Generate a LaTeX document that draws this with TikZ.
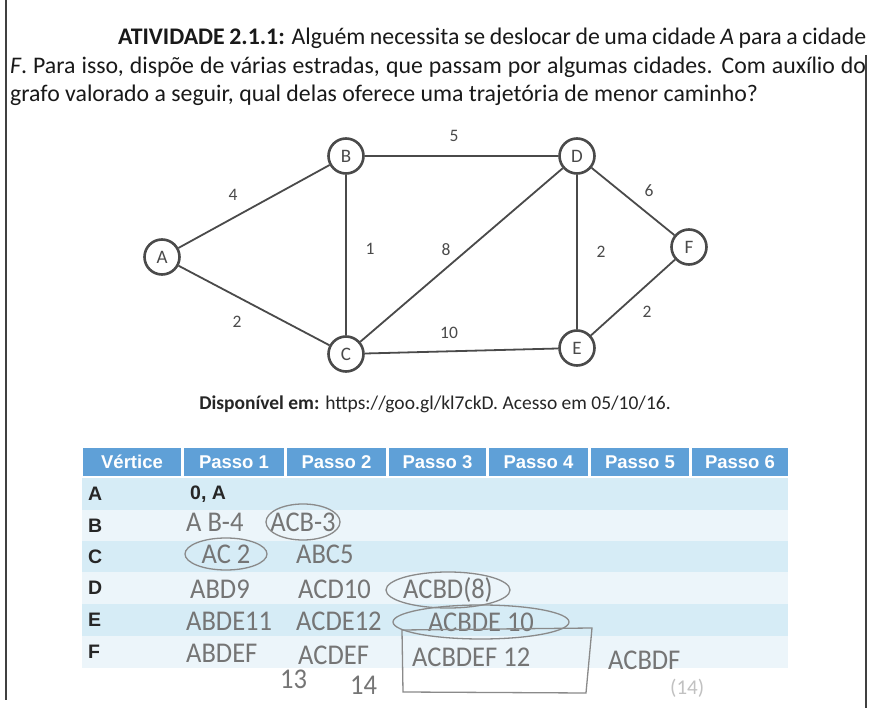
\documentclass[tikz,border=0pt]{standalone}
\usepackage{graphicx}
\usepackage{fontspec}
\setmainfont{Carlito}
\newfontfamily\tablefont{Liberation Sans}
\usetikzlibrary{shapes.geometric, positioning}
\definecolor{headblue}{HTML}{5FA0D7}
\definecolor{rowdark}{HTML}{D6ECF6}
\definecolor{rowlight}{HTML}{ECF5FA}
\definecolor{inkgray}{HTML}{4A4A4A}
\definecolor{pencil}{HTML}{757575}
\newcommand{\penciled}[1]{\scalebox{1.02}[1.1]{#1}}
\tikzset{
  titletext/.style={
    anchor=base west, inner sep=0pt,
    font=\fontsize{23.8}{29}\selectfont, text=black!90
  },
  vertex/.style={
    circle, minimum size=35pt, inner sep=0pt,
    draw=inkgray, line width=2.6pt, fill=white,
    font=\fontsize{19}{19}\selectfont, text=inkgray
  },
  edgeline/.style={line width=1.8pt, draw=inkgray},
  weight/.style={font=\fontsize{17.5}{17.5}\selectfont, text=inkgray, inner sep=1pt},
  headtext/.style={font=\tablefont\bfseries\fontsize{18.5}{18.5}\selectfont, text=white},
  rowlabel/.style={
    anchor=west, inner sep=0pt,
    font=\tablefont\bfseries\fontsize{19.5}{19.5}\selectfont, text=black!85
  },
  handtext/.style={
    anchor=west, inner sep=0pt,
    font=\fontsize{26}{26}\selectfont, text=pencil
  },
  handring/.style={draw=pencil!85, line width=1.3pt},
}

\begin{document}
\begin{tikzpicture}[x=1pt,y=-1pt]
  \useasboundingbox (0,0) rectangle (871,708);
  \fill[white] (0,0) rectangle (871,708);
  % page edges of the scan
  \draw[line width=1.4pt, black!75] (6,0) -- (6,700);
  \draw[line width=1.4pt, black!75] (866,55) -- (866,708);

  % statement
  \node[titletext] (line1) at (118,45)
    {\makebox[748pt][s]{\textbf{ATIVIDADE 2.1.1:} Alguém necessita se deslocar de uma cidade \textit{A} para a cidade}};
  \node[titletext] (line2) at (10,74)
    {\makebox[856pt][s]{\textit{F}. Para isso, dispõe de várias estradas, que passam por algumas cidades. Com auxílio do}};
  \node[titletext] (line3) at (10,102)
    {grafo valorado a seguir, qual delas oferece uma trajetória de menor caminho?};

  % graph
  \node[vertex] (A) at (162,257) {A};
  \node[vertex] (B) at (346,156) {B};
  \node[vertex] (C) at (346,354) {C};
  \node[vertex] (D) at (577,156) {D};
  \node[vertex] (E) at (577,348) {E};
  \node[vertex] (F) at (689,247) {F};
  \draw[edgeline] (A) -- (B);
  \draw[edgeline] (A) -- (C);
  \draw[edgeline] (B) -- (C);
  \draw[edgeline] (B) -- (D);
  \draw[edgeline] (C) -- (D);
  \draw[edgeline] (C) -- (E);
  \draw[edgeline] (D) -- (E);
  \draw[edgeline] (D) -- (F);
  \draw[edgeline] (E) -- (F);
  \node[weight] (wAB) at (233,195) {4};
  \node[weight] (wAC) at (237,322) {2};
  \node[weight] (wBC) at (370,249) {1};
  \node[weight] (wBD) at (454,136) {5};
  \node[weight] (wCD) at (446,250) {8};
  \node[weight] (wCE) at (449,333) {10};
  \node[weight] (wDE) at (601,252) {2};
  \node[weight] (wDF) at (649,191) {6};
  \node[weight] (wEF) at (647,312) {2};

  \node[font=\fontsize{19.5}{19.5}\selectfont, text=black!85] (source) at (435,404)
    {\textbf{Disponível em:} https://goo.gl/kl7ckD. Acesso em 05/10/16.};

  % table
  \foreach \id/\xa/\xb/\txt in {v/83/181/Vértice, p1/184/284/Passo 1, p2/287/386/Passo 2,
      p3/389/486/Passo 3, p4/489/588/Passo 4, p5/591/689/Passo 5, p6/692/788/Passo 6}{
    \fill[headblue] (\xa,448) rectangle (\xb,476);
    \node[headtext] (head\id) at ({(\xa+\xb)/2},462) {\txt};
  }
  \foreach \r/\ya/\yb/\col in {A/478/510/rowdark, B/510/541/rowlight, C/541/572/rowdark,
      D/572/604/rowlight, E/604/636/rowdark, F/636/668/rowlight}{
    \fill[\col] (82,\ya) rectangle (788,\yb);
    \node[rowlabel] (row\r) at (88,{(\ya+\yb)/2}) {\r};
  }
  \node[rowlabel] (startA) at (190,494) {0, A};

  % pencil notes
  \node[handtext] (b1) at (186,522) {\penciled{A B-4}};
  \node[handtext, anchor=center] (b2) at (303,522) {\penciled{ACB-3}};
  \draw[handring] (b2) ellipse [x radius=37pt, y radius=18pt];
  \node[handtext, anchor=center] (c1) at (226,554) {\penciled{AC 2}};
  \draw[handring] (c1) ellipse [x radius=41pt, y radius=16pt];
  \node[handtext] (c2) at (296,554) {\penciled{ABC5}};
  \node[handtext] (d1) at (190,589) {\penciled{ABD9}};
  \node[handtext] (d2) at (298,589) {\penciled{ACD10}};
  \node[handtext, anchor=center] (d3) at (448,590) {\penciled{ACBD(8)}};
  \draw[handring] (d3) ellipse [x radius=62pt, y radius=18pt];
  \node[handtext] (e1) at (186,621) {\penciled{ABDE11}};
  \node[handtext] (e2) at (296,621) {\penciled{ACDE12}};
  \node[handtext, anchor=center] (e3) at (481,622) {\penciled{ACBDE 10}};
  \draw[handring] (e3) ellipse [x radius=88pt, y radius=17pt];
  \node[handtext] (f1) at (186,653) {\penciled{ABDEF}};
  \node[handtext] (f1n) at (280,679) {\penciled{13}};
  \node[handtext] (f2) at (298,655) {\penciled{ACDEF}};
  \node[handtext] (f2n) at (350,685) {\penciled{14}};
  \node[handtext] (f3) at (412,657) {\penciled{ACBDEF 12}};
  \draw[handring] (402,630) -- (592,628) -- (586,693) -- (403,692) -- cycle;
  \node[handtext] (f4) at (608,660) {\penciled{ACBDF}};
  \node[handtext, text=pencil!45, font=\fontsize{21}{21}\selectfont] (f4n) at (670,688) {(14)};
\end{tikzpicture}
\end{document}
